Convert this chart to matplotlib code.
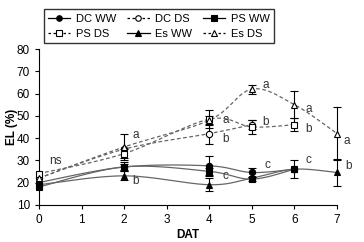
import numpy as np
import matplotlib
matplotlib.use("Agg")
import matplotlib.pyplot as plt
from matplotlib.lines import Line2D

plt.rcParams['font.family'] = ['Liberation Sans', 'DejaVu Sans']

# data
dat_ww = [0, 2, 4, 5, 6]
dc_ww = [20, 27, 27.5, 24.5, 26]
dc_ww_err = [0, 1.5, 4.5, 2, 0]
ps_ww = [18, 27, 25, 21.5, 26]
ps_ww_err = [0, 2, 1.5, 1, 4]
es_dat_ww = [0, 2, 4, 5, 6, 7]
es_ww = [19, 23, 19, 22, 26, 24.5]
es_ww_err = [0, 2, 3, 0, 0, 6]

dc_dat_ds = [0, 2, 4, 5]
dc_ds = [22, 35, 42, 46]
dc_ds_err = [0, 0, 4.5, 2]
ps_dat_ds = [0, 2, 4, 5, 6]
ps_ds = [24, 33, 48.5, 45, 46]
ps_ds_err = [0, 2, 4, 3, 3]
es_dat_ds = [0, 2, 4, 5, 6, 7]
es_ds = [22, 36, 48, 62, 55, 42]
es_ds_err = [0, 6, 2, 2, 6, 12]

letters = [(0.25, 29.5, 'ns'), (2.2, 41.5, 'a'), (2.2, 20.5, 'b'),
           (4.3, 48, 'a'), (4.3, 39.5, 'b'), (4.3, 23, 'c'),
           (5.25, 64, 'a'), (5.25, 47, 'b'), (5.3, 28, 'c'),
           (6.25, 53, 'a'), (6.25, 44, 'b'), (6.25, 30, 'c'),
           (7.15, 38.5, 'a'), (7.2, 27.5, 'b')]


def bez(x, y, n=30):
    # smooth curve through the points, like spreadsheet line smoothing
    x = np.asarray(x, float)
    y = np.asarray(y, float)
    px = np.concatenate([[x[0]], x, [x[-1]]])
    py = np.concatenate([[y[0]], y, [y[-1]]])
    t = np.linspace(0, 1, n)[:, None]
    segs = []
    for i in range(1, len(px) - 2):
        P0 = np.array([px[i], py[i]])
        P3 = np.array([px[i + 1], py[i + 1]])
        P1 = P0 + (P3 - np.array([px[i - 1], py[i - 1]])) / 6
        P2 = P3 - (np.array([px[i + 2], py[i + 2]]) - P0) / 6
        c = ((1 - t) ** 3) * P0 + 3 * ((1 - t) ** 2) * t * P1 + 3 * (1 - t) * t ** 2 * P2 + t ** 3 * P3
        segs.append(c)
    c = np.vstack(segs)
    return c[:, 0], c[:, 1]


fig = plt.figure(figsize=(3.64, 2.42), dpi=100)
ax = fig.add_axes([0.107, 0.154, 0.819, 0.643])

series = [
    (dat_ww, dc_ww, dc_ww_err, 'o', 'black', '-', 'DC WW'),
    (dc_dat_ds, dc_ds, dc_ds_err, 'o', 'white', '--', 'DC DS'),
    (dat_ww, ps_ww, ps_ww_err, 's', 'black', '-', 'PS WW'),
    (ps_dat_ds, ps_ds, ps_ds_err, 's', 'white', '--', 'PS DS'),
    (es_dat_ww, es_ww, es_ww_err, '^', 'black', '-', 'Es WW'),
    (es_dat_ds, es_ds, es_ds_err, '^', 'white', '--', 'Es DS'),
]

handles = []
for x, y, e, m, fc, ls, lab in series:
    sx, sy = bez(x, y)
    ax.plot(sx, sy, color='#666666', lw=0.9, ls=ls, dashes=(3, 2) if ls == '--' else (None, None),
            zorder=2, clip_on=False)
    ee = np.array(e, float)
    ee[ee == 0] = np.nan
    eb = ax.errorbar(x, y, yerr=ee, fmt='none', ecolor='black', elinewidth=0.8, capsize=3,
                     capthick=0.8, zorder=3)
    for art in eb.lines[1] + eb.lines[2]:
        art.set_clip_on(False)
    ax.plot(x, y, ls='none', marker=m, ms=5 if m != 'o' else 4.5, mfc=fc, mec='black', mew=0.8,
            zorder=4, clip_on=False)
    handles.append(Line2D([], [], color='black', lw=0.9, ls=ls, dashes=(2, 2) if ls == '--' else (None, None),
                          marker=m, ms=4, mfc=fc, mec='black', mew=0.8, label=lab))

for lx, ly, t in letters:
    ax.text(lx, ly, t, fontsize=8.5, color='#333333', va='center', ha='left')

ax.set_xlim(0, 7)
ax.set_ylim(10, 80)
ax.set_xticks(range(8))
ax.set_yticks(range(10, 81, 10))
ax.spines['top'].set_visible(False)
ax.spines['right'].set_visible(False)
ax.tick_params(direction='out', length=3, labelsize=8.5, width=0.8)
ax.set_xlabel('DAT', fontsize=8.5, fontweight='bold', labelpad=2)
ax.set_ylabel('EL (%)', fontsize=8.5, fontweight='bold')
ax.yaxis.set_label_coords(-0.07, 0.5)

# legend fills row by row in the reference
order = [0, 3, 1, 4, 2, 5]
fig.legend(handles=[handles[i] for i in order], ncol=3, loc='upper left', bbox_to_anchor=(0.105, 0.985),
           frameon=True, fancybox=False, edgecolor='black', fontsize=8,
           handlelength=2.0, columnspacing=1.0, handletextpad=0.5, borderpad=0.4,
           labelspacing=0.45)

fig.savefig('out.png', dpi=100)
